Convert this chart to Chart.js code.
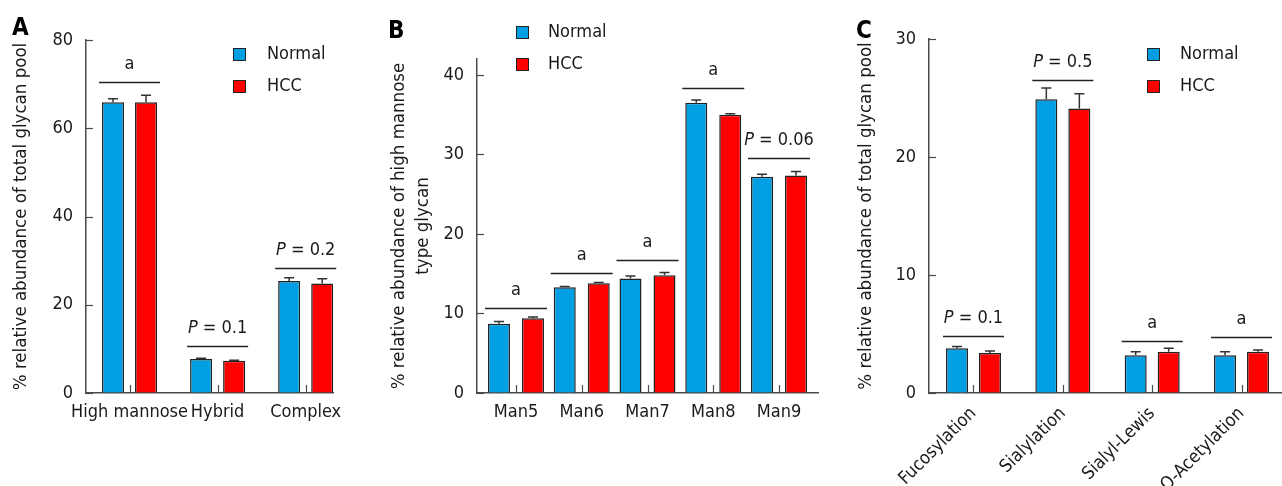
<!DOCTYPE html>
<html>
<head>
<meta charset="utf-8">
<script src="https://cdn.jsdelivr.net/npm/chart.js@4.4.1/dist/chart.umd.min.js"></script>
<style>
  html, body { margin: 0; padding: 0; background: #fff; }
  canvas { position: absolute; top: 0; }
</style>
</head>
<body>
<canvas id="chartA" width="370" height="486" style="left:0px"></canvas>
<canvas id="chartB" width="480" height="486" style="left:370px"></canvas>
<canvas id="chartC" width="437" height="486" style="left:845px"></canvas>
<script>
// Panel A - glycan classes
const catsA = ['High mannose', 'Hybrid', 'Complex'];
const normalA = [65.9, 7.7, 25.4];
const normalErrA = [0.8, 0.2, 0.7];
const hccA = [65.9, 7.3, 24.8];
const hccErrA = [1.6, 0.15, 1.1];
const yTicksA = [0, 20, 40, 60, 80];
const sigTextA = ['a', 'P = 0.1', 'P = 0.2'];
const sigLevelA = [70.5, 10.7, 28.4];

// Panel B - high mannose types
const catsB = ['Man5', 'Man6', 'Man7', 'Man8', 'Man9'];
const normalB = [8.7, 13.3, 14.4, 36.5, 27.2];
const normalErrB = [0.3, 0.1, 0.3, 0.35, 0.3];
const hccB = [9.4, 13.8, 14.8, 35.0, 27.35];
const hccErrB = [0.15, 0.1, 0.35, 0.1, 0.5];
const yTicksB = [0, 10, 20, 30, 40];
const sigTextB = ['a', 'a', 'a', 'a', 'P = 0.06'];
const sigLevelB = [10.7, 15.1, 16.7, 38.3, 29.6];

// Panel C - modifications
const catsC = ['Fucosylation', 'Sialylation', 'Sialyl-Lewis', 'O-Acetylation'];
const normalC = [3.8, 24.9, 3.2, 3.2];
const normalErrC = [0.15, 0.95, 0.3, 0.3];
const hccC = [3.4, 24.1, 3.5, 3.5];
const hccErrC = [0.15, 1.25, 0.3, 0.15];
const yTicksC = [0, 10, 20, 30];
const sigTextC = ['P = 0.1', 'P = 0.5', 'a', 'a'];
const sigLevelC = [4.8, 26.5, 4.4, 4.75];

const FONT = '"DejaVu Sans Condensed", "DejaVu Sans", sans-serif';
const TEXT = '#1a1a1a';
const AXIS = '#4a4a4a';
const BLUE = '#009FE3';
const RED = '#FF0000';

Chart.defaults.font.family = FONT;
Chart.defaults.font.size = 18;
Chart.defaults.color = TEXT;

// draws error bars, significance lines, inward ticks, legend and panel letter
const extras = {
  id: 'extras',
  afterDatasetsDraw(chart, args, o) {
    const ctx = chart.ctx;
    const y = chart.scales.y;
    const x = chart.scales.x;
    const area = chart.chartArea;
    ctx.save();

    // error bars (upper only)
    ctx.strokeStyle = '#333';
    ctx.lineWidth = 1.5;
    o.errors.forEach((errs, d) => {
      const meta = chart.getDatasetMeta(d);
      meta.data.forEach((bar, i) => {
        const v = chart.data.datasets[d].data[i];
        const top = y.getPixelForValue(v + errs[i]);
        ctx.beginPath();
        ctx.moveTo(bar.x, bar.y);
        ctx.lineTo(bar.x, top);
        ctx.moveTo(bar.x - 5, top);
        ctx.lineTo(bar.x + 5, top);
        ctx.stroke();
      });
    });

    // inward ticks
    ctx.strokeStyle = AXIS;
    ctx.lineWidth = 1.2;
    o.yTicks.forEach(v => {
      const py = Math.round(y.getPixelForValue(v)) + 0.5;
      ctx.beginPath();
      ctx.moveTo(area.left, py);
      ctx.lineTo(area.left + 7, py);
      ctx.stroke();
    });
    x.ticks.forEach(t => {
      const px = Math.round(x.getPixelForValue(t.value)) + 0.5;
      ctx.beginPath();
      ctx.moveTo(px, area.bottom);
      ctx.lineTo(px, area.bottom - 8);
      ctx.stroke();
    });

    // significance lines and labels
    const m0 = chart.getDatasetMeta(0);
    const m1 = chart.getDatasetMeta(1);
    o.sigText.forEach((txt, i) => {
      const b0 = m0.data[i], b1 = m1.data[i];
      const left = b0.x - b0.width / 2 - 3;
      const right = b1.x + b1.width / 2 + 3;
      const ly = Math.round(y.getPixelForValue(o.sigLevel[i])) + 0.5;
      ctx.strokeStyle = '#222';
      ctx.lineWidth = 1.3;
      ctx.beginPath();
      ctx.moveTo(left, ly);
      ctx.lineTo(right, ly);
      ctx.stroke();

      const cx = (left + right) / 2;
      const ty = ly - 18;
      ctx.fillStyle = TEXT;
      ctx.textBaseline = 'middle';
      ctx.textAlign = 'left';
      if (txt.startsWith('P')) {
        const rest = txt.slice(1);
        ctx.font = 'italic 18px ' + FONT;
        const wP = ctx.measureText('P').width;
        ctx.font = '18px ' + FONT;
        const wR = ctx.measureText(rest).width;
        const sx = cx - (wP + wR) / 2;
        ctx.font = 'italic 18px ' + FONT;
        ctx.fillText('P', sx, ty);
        ctx.font = '18px ' + FONT;
        ctx.fillText(rest, sx + wP, ty);
      } else {
        ctx.font = '18px ' + FONT;
        ctx.textAlign = 'center';
        ctx.fillText(txt, cx, ty);
      }
    });

    // legend
    chart.data.datasets.forEach((ds, d) => {
      const lx = o.legend.x;
      const ly = o.legend.y + d * 32;
      ctx.fillStyle = ds.backgroundColor;
      ctx.fillRect(lx, ly, 12, 12);
      ctx.strokeStyle = '#222';
      ctx.lineWidth = 1;
      ctx.strokeRect(lx + 0.5, ly + 0.5, 12, 12);
      ctx.fillStyle = TEXT;
      ctx.font = '18px ' + FONT;
      ctx.textAlign = 'left';
      ctx.textBaseline = 'middle';
      ctx.fillText(ds.label, lx + o.legend.gap, ly + 6);
    });

    // panel letter
    ctx.font = 'bold 24px ' + FONT;
    ctx.fillStyle = '#000';
    ctx.textAlign = 'left';
    ctx.textBaseline = 'top';
    ctx.fillText(o.letter.text, o.letter.x, o.letter.y);

    ctx.restore();
  }
};

function makePanel(id, p) {
  return new Chart(document.getElementById(id), {
    type: 'bar',
    data: {
      labels: p.cats.map((_, i) => i),
      datasets: [
        { label: 'Normal', data: p.normal, backgroundColor: BLUE, borderColor: '#222', borderWidth: 1.5 },
        { label: 'HCC', data: p.hcc, backgroundColor: RED, borderColor: '#222', borderWidth: 1.5 }
      ]
    },
    options: {
      responsive: false,
      animation: false,
      events: [],
      categoryPercentage: p.catPct,
      barPercentage: p.barPct,
      layout: { padding: { top: p.padTop, right: p.padRight, left: 0, bottom: 0 } },
      plugins: {
        legend: { display: false },
        tooltip: { enabled: false },
        extras: {
          errors: [p.normalErr, p.hccErr],
          yTicks: p.yTicks,
          sigText: p.sigText,
          sigLevel: p.sigLevel,
          legend: p.legend,
          letter: p.letter
        }
      },
      scales: {
        x: {
          type: 'linear',
          offset: false,
          min: p.xMin,
          max: p.xMax,
          grid: { display: true, drawOnChartArea: false, drawTicks: false, offset: false },
          border: { display: true, color: AXIS, width: 1.5 },
          ticks: {
            stepSize: 1,
            includeBounds: false,
            autoSkip: false,
            padding: p.xPad,
            minRotation: p.rot,
            maxRotation: p.rot,
            color: TEXT,
            font: { size: 18 },
            callback: v => p.cats[v]
          },
          afterFit: s => { s.height = 93; }
        },
        y: {
          min: 0,
          max: p.yMax,
          grid: { display: true, drawOnChartArea: false, drawTicks: false },
          border: { display: true, color: AXIS, width: 1.5 },
          afterBuildTicks: s => { s.ticks = p.yTicks.map(v => ({ value: v })); },
          ticks: { padding: 13, color: TEXT, font: { size: 18 } },
          title: {
            display: true,
            text: p.title,
            color: TEXT,
            font: { size: 18.5, lineHeight: 1.3 },
            padding: { top: p.titlePad, bottom: 0 }
          },
          afterFit: s => { s.width = p.yWidth; }
        }
      }
    },
    plugins: [extras]
  });
}

makePanel('chartA', {
  cats: catsA, normal: normalA, normalErr: normalErrA, hcc: hccA, hccErr: hccErrA,
  yTicks: yTicksA, yMax: 80, sigText: sigTextA, sigLevel: sigLevelA,
  title: '% relative abundance of total glycan pool',
  yWidth: 86, padTop: 40, padRight: 37, xMin: -0.494, xMax: 2.31,
  catPct: 0.75, barPct: 0.667, xPad: 9, rot: 0, titlePad: 9,
  legend: { x: 233, y: 48, gap: 34 }, letter: { text: 'A', x: 12, y: 17 }
});

makePanel('chartB', {
  cats: catsB, normal: normalB, normalErr: normalErrB, hcc: hccB, hccErr: hccErrB,
  yTicks: yTicksB, yMax: 42, sigText: sigTextB, sigLevel: sigLevelB,
  title: ['% relative abundance of high mannose', 'type glycan'],
  yWidth: 107, padTop: 59, padRight: 32, xMin: -0.593, xMax: 4.593,
  catPct: 1.034, barPct: 0.647, xPad: 9, rot: 0, titlePad: 17,
  legend: { x: 146, y: 26, gap: 32 }, letter: { text: 'B', x: 18, y: 20 }
});

makePanel('chartC', {
  cats: catsC, normal: normalC, normalErr: normalErrC, hcc: hccC, hccErr: hccErrC,
  yTicks: yTicksC, yMax: 30, sigText: sigTextC, sigLevel: sigLevelC,
  title: '% relative abundance of total glycan pool',
  yWidth: 84, padTop: 39, padRight: 0, xMin: -0.498, xMax: 3.453,
  catPct: 0.739, barPct: 0.667, xPad: 10, rot: 45, titlePad: 9,
  legend: { x: 302, y: 48, gap: 33 }, letter: { text: 'C', x: 11, y: 20 }
});
</script>
</body>
</html>
